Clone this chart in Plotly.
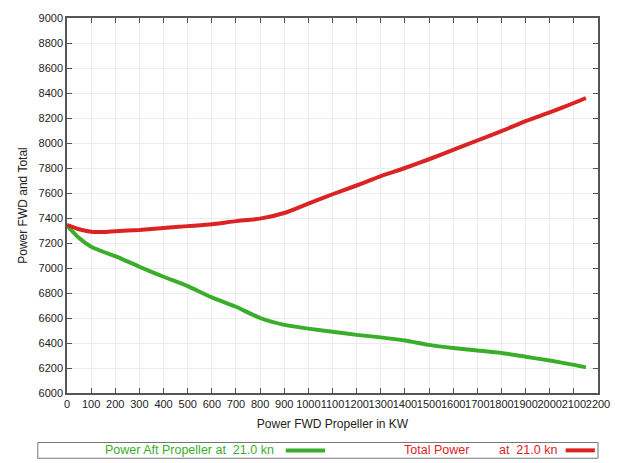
import plotly.graph_objects as go

# Forward propeller power (kW) sampled along the curves
fwd_power = [0, 50, 100, 150, 200, 300, 400, 500, 600, 700, 800, 900, 1000,
             1100, 1200, 1300, 1400, 1500, 1600, 1700, 1800, 1900, 2000, 2100, 2150]

# Aft propeller power at 21.0 kn
aft_power = [7340, 7240, 7170, 7130, 7095, 7010, 6930, 6855, 6765, 6690, 6600, 6545, 6515,
             6490, 6465, 6445, 6420, 6385, 6360, 6340, 6320, 6290, 6260, 6225, 6205]

# Total power at 21.0 kn
total_power = [7345, 7310, 7290, 7288, 7295, 7305, 7320, 7335, 7350, 7375, 7395, 7440, 7515,
               7590, 7660, 7735, 7800, 7870, 7945, 8020, 8095, 8175, 8245, 8320, 8360]

x_ticks = list(range(0, 2201, 100))
y_ticks = list(range(6000, 9001, 200))

GREEN = "#3aae2a"
RED = "#dc2324"
FONT = "Liberation Sans, Arial, sans-serif"

fig = go.Figure()
fig.add_trace(go.Scatter(x=fwd_power, y=aft_power, mode="lines",
                         line=dict(color=GREEN, width=4, shape="spline", smoothing=0.6),
                         name="Power Aft Propeller at  21.0 kn"))
fig.add_trace(go.Scatter(x=fwd_power, y=total_power, mode="lines",
                         line=dict(color=RED, width=4, shape="spline", smoothing=0.6),
                         name="Total Power       at  21.0 kn"))

axis_common = dict(
    showgrid=True, gridcolor="#ececec", gridwidth=1,
    showline=True, linecolor="#555555", linewidth=1.5, mirror="ticks",
    ticks="inside", ticklen=5, tickcolor="#555555",
    zeroline=False, tickfont=dict(family=FONT, size=11, color="#222222"),
)

fig.update_xaxes(range=[0, 2200], tickmode="array", tickvals=x_ticks,
                 ticktext=[str(v) for v in x_ticks], tickangle=0,
                 title=dict(text="Power FWD Propeller in KW", standoff=11,
                            font=dict(family=FONT, size=12, color="#222222")),
                 **axis_common)
fig.update_yaxes(range=[6000, 9000], tickmode="array", tickvals=y_ticks,
                 ticktext=[str(v) for v in y_ticks],
                 title=dict(text="Power FWD and Total", standoff=8,
                            font=dict(family=FONT, size=12, color="#222222")),
                 **axis_common)

# Legend box below the plot, with text placed before each line sample
LEG_Y = -0.153
fig.add_shape(type="rect", xref="paper", yref="paper", x0=-0.055, x1=1.0, y0=-0.174, y1=-0.132,
              line=dict(color="#777777", width=1), fillcolor="white")
fig.add_annotation(xref="paper", yref="paper", x=0.394, y=LEG_Y, xanchor="right", yanchor="middle",
                   text="Power Aft Propeller at  21.0 kn", showarrow=False,
                   font=dict(family=FONT, size=12.5, color=GREEN))
fig.add_shape(type="line", xref="paper", yref="paper", x0=0.412, x1=0.486, y0=LEG_Y, y1=LEG_Y,
              line=dict(color=GREEN, width=4))
fig.add_annotation(xref="paper", yref="paper", x=0.76, y=LEG_Y, xanchor="right", yanchor="middle",
                   text="Total Power", showarrow=False,
                   font=dict(family=FONT, size=12.5, color=RED))
fig.add_annotation(xref="paper", yref="paper", x=0.926, y=LEG_Y, xanchor="right", yanchor="middle",
                   text="at  21.0 kn", showarrow=False,
                   font=dict(family=FONT, size=12.5, color=RED))
fig.add_shape(type="line", xref="paper", yref="paper", x0=0.939, x1=0.994, y0=LEG_Y, y1=LEG_Y,
              line=dict(color=RED, width=4))

fig.update_layout(
    width=622, height=463,
    margin=dict(l=67, r=14, t=13, b=70),
    paper_bgcolor="white", plot_bgcolor="white",
    showlegend=False,
    font=dict(family=FONT),
)

fig.write_html("out.html")
